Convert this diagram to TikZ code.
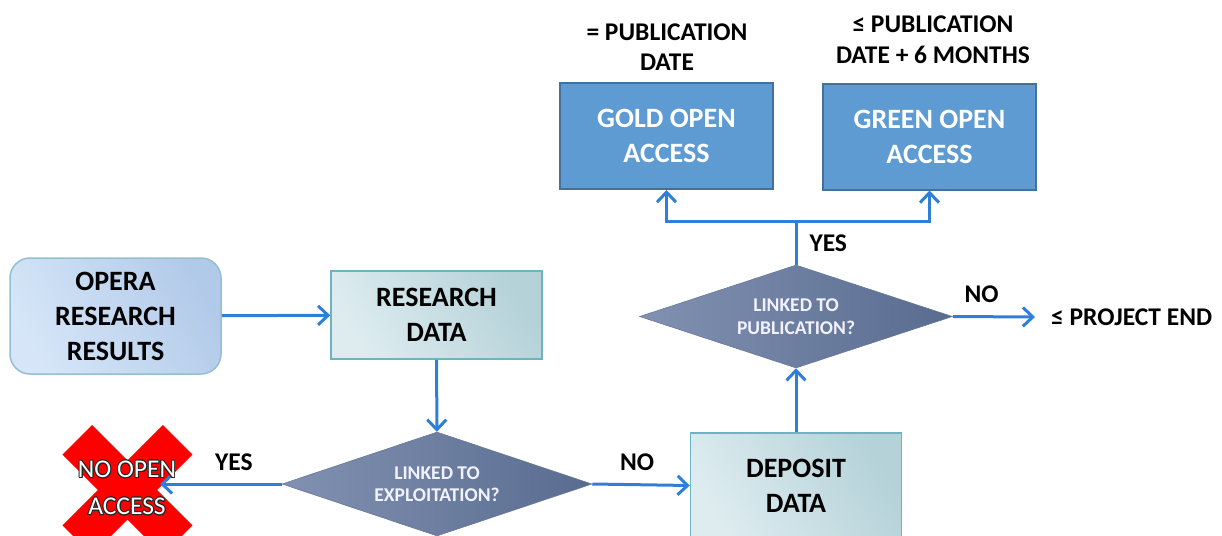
\documentclass[tikz,border=0pt]{standalone}
\usepackage{fontspec}
\setmainfont{Carlito}
\usepackage{contour}
\usetikzlibrary{shapes.geometric,arrows.meta,positioning}
\definecolor{flowblue}{HTML}{2F7FD8}
\definecolor{oaboxfill}{HTML}{5E9BD3}
\definecolor{oaboxline}{HTML}{41719C}
\contourlength{0.9pt}

\begin{document}
\begin{tikzpicture}[x=1pt,y=-1pt,
  every node/.style={inner sep=0pt},
  bigtxt/.style={font=\fontsize{28}{35}\selectfont\bfseries,align=center},
  lbl/.style={font=\fontsize{25.5}{30.5}\selectfont\bfseries,align=center},
  startbox/.style={bigtxt,draw=blue!30!cyan!40!gray!60,line width=1.5pt,rounded corners=20pt,
    minimum width=211pt,minimum height=116pt,
    left color={rgb,255:red,214;green,230;blue,248},right color={rgb,255:red,178;green,202;blue,233},shading angle=120},
  databox/.style={bigtxt,draw={rgb,255:red,110;green,180;blue,192},line width=1.5pt,
    minimum width=211pt,
    left color={rgb,255:red,222;green,236;blue,240},right color={rgb,255:red,180;green,210;blue,216},shading angle=120},
  oabox/.style={bigtxt,text=white,fill=oaboxfill,draw=oaboxline,line width=2pt,
    minimum width=213pt,minimum height=106pt},
  question/.style={diamond,shape aspect=3,font=\fontsize{19.5}{22.5}\selectfont\bfseries,align=center,text=white!95!blue,
    left color={rgb,255:red,130;green,145;blue,178},right color={rgb,255:red,88;green,108;blue,143},
    draw={rgb,255:red,100;green,115;blue,150},line width=0.5pt},
  xarm/.style={rectangle,fill=red,minimum width=142pt,minimum height=42pt},
  flow/.style={draw=flowblue,line width=3pt,-{Straight Barb[length=10pt,width=19pt]}},
  plain/.style={draw=flowblue,line width=3pt}]
\useasboundingbox (0,0) rectangle (1222,535);
\clip (0,0) rectangle (1222,535);

% boxes
\node[startbox] (opera) at (115.5,316) {OPERA\\RESEARCH\\RESULTS};
\node[databox,minimum height=88pt] (resdata) at (436.5,315) {RESEARCH\\DATA};
\node[databox,minimum height=105pt] (deposit) at (796,485.5) {DEPOSIT\\DATA};
\node[oabox] (gold) at (666.5,136) {GOLD OPEN\\ACCESS};
\node[oabox] (green) at (929.5,136.5) {GREEN OPEN\\ACCESS};

% decisions
\node[question,minimum width=310pt,minimum height=104pt] (expl) at (437,484) {LINKED TO\\EXPLOITATION?};
\node[question,minimum width=313pt,minimum height=103pt] (pub) at (796,316.5) {LINKED TO\\PUBLICATION?};

% notes above the open access boxes
\node[lbl] (golddate) at (667,47) {= PUBLICATION\\DATE};
\node[lbl] (greendate) at (933,39.5) {≤ PUBLICATION\\DATE + 6 MONTHS};
\node[lbl,anchor=west,inner xsep=16pt] (projend) at (1035,317) {≤ PROJECT END};

% no open access cross
\node[xarm,rotate=45] (cross) at (127.5,490) {};
\node[xarm,rotate=-45] (cross2) at (cross) {};

% connectors
\draw[flow] (opera) -- (resdata);
\draw[flow] (resdata) -- (expl);
\draw[flow,shorten >=32.5pt] (expl.west) -- (expl.west -| cross.center)
  node[lbl,pos=0.31,yshift=22pt] (yes1) {YES};
\draw[flow] (expl.east) -- (deposit.west)
  node[lbl,pos=0.46,yshift=22pt] (no1) {NO};
\draw[flow] (deposit) -- (pub);
\draw[flow] (pub.east) -- (projend.west)
  node[lbl,pos=0.35,yshift=22pt] (no2) {NO};
\draw[plain] (pub.north) -- node[lbl,right=12pt] (yes2) {YES} ++(0,-43) coordinate (split);
\draw[flow] (split) -| (gold.south);
\draw[flow] (split) -| (green.south);

\node[font=\fontsize{25.5}{37}\selectfont,align=center,text=white] (noopen) at (127,488.5)
  {\contour{black!85}{NO OPEN}\\\contour{black!85}{ACCESS}};
\end{tikzpicture}
\end{document}
